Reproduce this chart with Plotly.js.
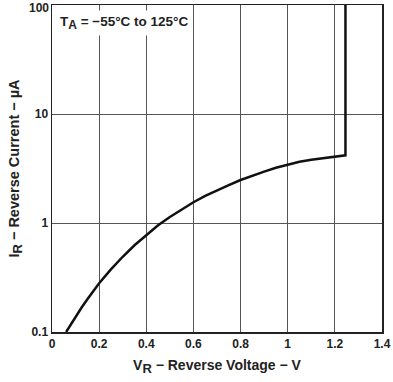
<!DOCTYPE html>
<html>
<head>
<meta charset="utf-8">
<script src="https://cdn.plot.ly/plotly-3.0.1.min.js"></script>
<style>html,body{margin:0;padding:0;background:#fff;}#chart{width:393px;height:382px;}</style>
</head>
<body>
<div id="chart"></div>
<script>
const voltage = [0.06, 0.08, 0.1, 0.125, 0.15, 0.175, 0.2, 0.25, 0.3, 0.35, 0.4, 0.45, 0.5, 0.55, 0.6, 0.65, 0.7, 0.75, 0.8, 0.85, 0.9, 0.95, 1.0, 1.05, 1.1, 1.15, 1.2, 1.245, 1.245];
const current = [0.1, 0.1175, 0.138, 0.167, 0.2, 0.238, 0.28, 0.375, 0.49, 0.625, 0.78, 0.953, 1.137, 1.337, 1.55, 1.77, 2.0, 2.23, 2.48, 2.72, 2.96, 3.21, 3.45, 3.65, 3.81, 3.95, 4.05, 4.18, 100];
const xTickVals = [0, 0.2, 0.4, 0.6, 0.8, 1, 1.2, 1.4];
const xTickText = ['0', '0.2', '0.4', '0.6', '0.8', '1', '1.2', '1.4'];
const yTickVals = [0.1, 1, 10, 100];
const yTickText = ['0.1', '1', '10', '100'];

const fontFam = 'Liberation Sans, Arial, sans-serif';
const tickFont = {family: fontFam, size: 12, weight: 'bold', color: '#222'};
const lastY = yTickVals.length - 1;

const trace = {
  x: voltage, y: current, type: 'scatter', mode: 'lines',
  line: {color: '#111', width: 2.5, shape: 'linear'},
  hoverinfo: 'none'
};
const layout = {
  width: 393, height: 382,
  margin: {l: 52, r: 11, t: 5, b: 50},
  paper_bgcolor: '#fff', plot_bgcolor: '#fff',
  showlegend: false,
  font: {family: fontFam, color: '#222', size: 12},
  xaxis: {
    range: [0, 1.4], tickvals: xTickVals, ticktext: xTickText,
    showgrid: true, gridcolor: '#555', gridwidth: 1,
    showline: true, mirror: true, linecolor: '#222', linewidth: 1.5,
    zeroline: false, ticks: '', automargin: false,
    tickfont: tickFont,
    title: {text: 'V<sub><span style="font-size:13px">R</span></sub> − Reverse Voltage − V', font: {family: fontFam, size: 14, weight: 'bold', color: '#222'}, standoff: 10}
  },
  yaxis: {
    type: 'log', range: [-1, 2], tickvals: yTickVals,
    ticktext: yTickText.map((t, i) => i === lastY ? '' : t),
    showgrid: true, gridcolor: '#555', gridwidth: 1,
    showline: true, mirror: true, linecolor: '#222', linewidth: 1.5,
    zeroline: false, ticks: '', automargin: false,
    tickfont: tickFont,
    title: {text: 'I<sub><span style="font-size:13px">R</span></sub> − Reverse Current − µA', font: {family: fontFam, size: 14.5, weight: 'bold', color: '#222'}, standoff: 8}
  },
  annotations: [{
    xref: 'paper', yref: 'paper', x: 0.012, y: 0.945, xanchor: 'left', yanchor: 'middle',
    text: 'T<sub><span style="font-size:12px">A</span></sub> = −55°C to 125°C', showarrow: false,
    bgcolor: '#fff', borderpad: 3,
    font: {family: fontFam, size: 13.5, weight: 'bold', color: '#222'}
  }, {
    xref: 'paper', yref: 'y', x: 0, y: Math.log10(yTickVals[lastY]), xanchor: 'right', yanchor: 'top',
    xshift: -2, yshift: 5, borderpad: 0, text: yTickText[lastY], showarrow: false, font: tickFont
  }]
};
Plotly.newPlot('chart', [trace], layout, {staticPlot: true, displayModeBar: false});
</script>
</body>
</html>
